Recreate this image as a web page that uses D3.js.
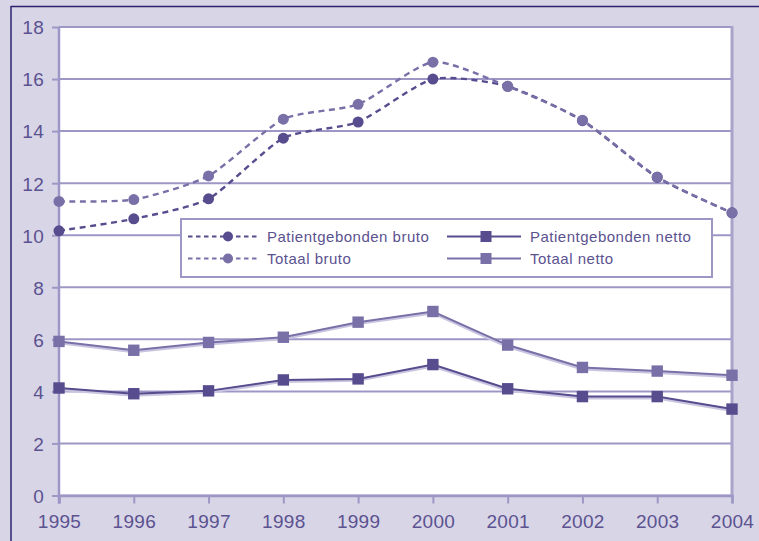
<!DOCTYPE html>
<html>
<head>
<meta charset="utf-8">
<script src="https://cdn.jsdelivr.net/npm/d3@7"></script>
<style>
  html, body { margin: 0; padding: 0; background: #d8d5e7; }
  svg { display: block; }
  text { font-family: "Liberation Sans", Arial, sans-serif; }
</style>
</head>
<body>
<svg id="chart" width="759" height="541"></svg>
<script>
// ---- data ----
const years = [1995, 1996, 1997, 1998, 1999, 2000, 2001, 2002, 2003, 2004];
const patientgebondenBruto = [10.17, 10.63, 11.4, 13.73, 14.35, 16.0, 15.72, 14.4, 12.22, 10.86];
const totaalBruto          = [11.3, 11.37, 12.28, 14.46, 15.03, 16.65, 15.72, 14.42, 12.24, 10.86];
const patientgebondenNetto = [4.13, 3.91, 4.02, 4.44, 4.48, 5.03, 4.1, 3.8, 3.8, 3.32];
const totaalNetto          = [5.92, 5.58, 5.88, 6.08, 6.66, 7.07, 5.78, 4.92, 4.78, 4.62];
const yTicks = [0, 2, 4, 6, 8, 10, 12, 14, 16, 18];
const legendLabels = ["Patientgebonden bruto", "Totaal bruto", "Patientgebonden netto", "Totaal netto"];

// ---- colours ----
const cBg = "#d8d5e7", cGrid = "#9d97c6", cText = "#5b5290";
const cDark = "#564c8e", cLight = "#7a70a8";

const svg = d3.select("#chart");
const W = 759, H = 541;
const L = 59, R = 732, T = 27, B = 495.5;

svg.append("rect").attr("width", W).attr("height", H).attr("fill", cBg);
// outer navy frame lines (top & left)
svg.append("line").attr("x1", 11).attr("x2", W).attr("y1", 6.5).attr("y2", 6.5)
  .attr("stroke", "#2b226f").attr("stroke-width", 1.5);
svg.append("line").attr("x1", 11).attr("x2", 11).attr("y1", 6).attr("y2", H)
  .attr("stroke", "#2b226f").attr("stroke-width", 1.5);

const x = d3.scaleLinear().domain([1995, 2004]).range([L, R]);
const y = d3.scaleLinear().domain([0, 18]).range([B, T]);

// plot area
svg.append("rect").attr("x", L).attr("y", T).attr("width", R - L).attr("height", B - T).attr("fill", "#fff");

// gridlines
svg.append("g").selectAll("line").data(yTicks).join("line")
  .attr("x1", L).attr("x2", R).attr("y1", d => y(d)).attr("y2", d => y(d))
  .attr("stroke", cGrid).attr("stroke-width", 2);
// right border
svg.append("line").attr("x1", R).attr("x2", R).attr("y1", T - 1).attr("y2", B)
  .attr("stroke", "#a9a3ca").attr("stroke-width", 3);

// axes
const yAxis = d3.axisLeft(y).tickValues(yTicks).tickSize(7).tickPadding(8).tickFormat(d3.format("d"));
const gy = svg.append("g").attr("transform", `translate(${L},0)`).call(yAxis);
const xAxis = d3.axisBottom(x).tickValues(years).tickSize(8).tickPadding(11).tickFormat(d3.format("d"));
const gx = svg.append("g").attr("transform", `translate(0,${B})`).call(xAxis);
[gx, gy].forEach(g => {
  g.select(".domain").attr("stroke", cGrid).attr("stroke-width", 2.5);
  g.selectAll(".tick line").attr("stroke", cGrid).attr("stroke-width", 2);
  g.selectAll(".tick text").attr("fill", cText).style("font-size", "19px")
    .style("font-family", "'Liberation Sans', Arial, sans-serif").style("letter-spacing", "0.3px");
});
gy.select(".domain").attr("d", `M0,${B + 8}V${T}`);
gy.selectAll(".tick text").attr("dy", "0.36em");

// series
const series = [
  { name: legendLabels[0], values: patientgebondenBruto, color: cDark, dashed: true, shape: "circle" },
  { name: legendLabels[1], values: totaalBruto, color: cLight, dashed: true, shape: "circle" },
  { name: legendLabels[2], values: patientgebondenNetto, color: cDark, dashed: false, shape: "square" },
  { name: legendLabels[3], values: totaalNetto, color: cLight, dashed: false, shape: "square" }
];

const smooth = d3.line().x((d, i) => x(years[i])).y(d => y(d)).curve(d3.curveCardinal.tension(0.35));
const straight = d3.line().x((d, i) => x(years[i])).y(d => y(d));

const gS = svg.append("g");
series.forEach(s => {
  if (!s.dashed) {
    gS.append("path").attr("d", straight(s.values)).attr("fill", "none")
      .attr("stroke", "#c9c4e0").attr("stroke-width", 3.5).attr("transform", "translate(0,1.2)");
  }
  gS.append("path").attr("d", s.dashed ? smooth(s.values) : straight(s.values))
    .attr("fill", "none").attr("stroke", s.color)
    .attr("stroke-width", s.dashed ? 2.4 : 2)
    .attr("stroke-dasharray", s.dashed ? "6,4.5" : null);
  if (s.shape === "circle") {
    gS.selectAll(null).data(s.values).join("circle")
      .attr("cx", (d, i) => x(years[i])).attr("cy", d => y(d)).attr("r", 5.5).attr("fill", s.color);
  } else {
    gS.selectAll(null).data(s.values).join("rect")
      .attr("x", (d, i) => x(years[i]) - 5.7).attr("y", d => y(d) - 5.7)
      .attr("width", 11.4).attr("height", 11.4).attr("fill", s.color);
  }
});

// legend
const lg = svg.append("g");
lg.append("rect").attr("x", 181).attr("y", 219).attr("width", 531).attr("height", 58)
  .attr("fill", "#fff").attr("stroke", cGrid).attr("stroke-width", 2);
const cols = [{ x0: 188, x1: 260, mx: 228, tx: 267 }, { x0: 447, x1: 521, mx: 486, tx: 530 }];
const rows = [236.5, 258.5];
series.forEach((s, i) => {
  const c = cols[Math.floor(i / 2)], ry = rows[i % 2];
  lg.append("line").attr("x1", c.x0).attr("x2", c.x1).attr("y1", ry).attr("y2", ry)
    .attr("stroke", s.color).attr("stroke-width", 2)
    .attr("stroke-dasharray", s.dashed ? "4.5,3.5" : null);
  if (s.shape === "circle") {
    lg.append("circle").attr("cx", c.mx).attr("cy", ry).attr("r", 5).attr("fill", s.color);
  } else {
    lg.append("rect").attr("x", c.mx - 5.5).attr("y", ry - 5.5).attr("width", 11).attr("height", 11).attr("fill", s.color);
  }
  lg.append("text").attr("x", c.tx).attr("y", ry).attr("dy", "0.36em")
    .attr("fill", cText).style("font-size", "15px").style("letter-spacing", "0.5px").text(s.name);
});
</script>
</body>
</html>
